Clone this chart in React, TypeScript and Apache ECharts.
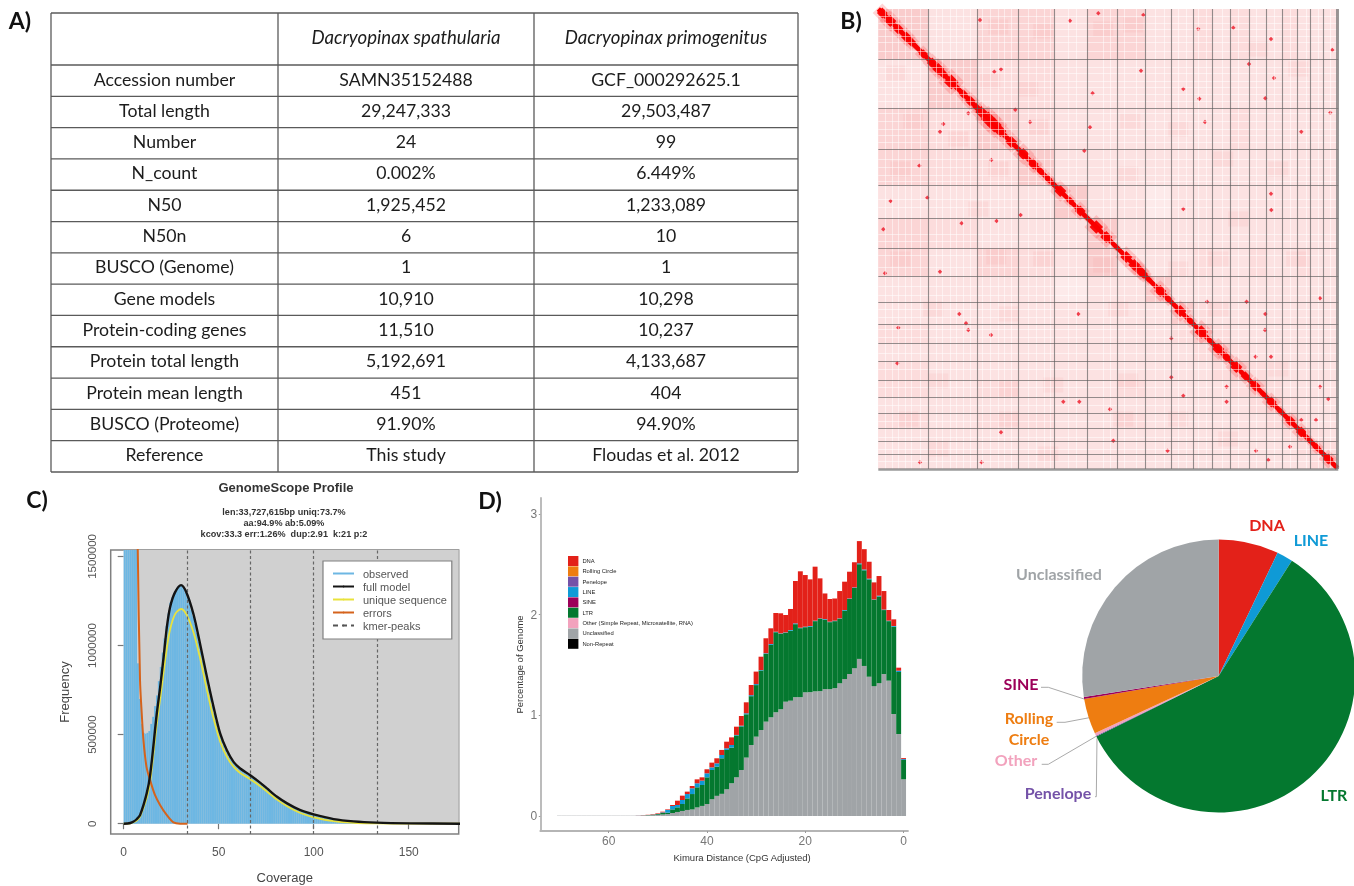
import React, { useEffect, useRef } from "react";
import * as echarts from "echarts";

// ---------- Panel A ----------
const rowLabels = ["Accession number","Total length","Number","N_count","N50","N50n","BUSCO (Genome)","Gene models","Protein-coding genes","Protein total length","Protein mean length","BUSCO (Proteome)","Reference"];
const spathularia = ["SAMN35152488","29,247,333","24","0.002%","1,925,452","6","1","10,910","11,510","5,192,691","451","91.90%","This study"];
const primogenitus = ["GCF_000292625.1","29,503,487","99","6.449%","1,233,089","10","1","10,298","10,237","4,133,687","404","94.90%","Floudas et al. 2012"];
const speciesHeaders = ["Dacryopinax spathularia","Dacryopinax primogenitus"];

// ---------- Panel B ----------
const contigEnds = [50,99,140,176,209,239,267,293,315,334,352,371,388,404,419,432,445,459];
const contigTints = [
"413313311212112111","142211111111111111","324211111112111111","322411111111111111","111141101111111111","321114111111111111",
"313214111211211211","111101141111111111","111111114211111111","211111112421111111","111111111242111111","211111111124211111",
"212111211112421111","111111111111242111","212211211111124211","111111111111112421","111111111111111242","111111111111111124"];
const paleStripes = [7,14,20,27,33,42,58,64,72,78,85,92,104,112,120,126,133,150,158,166,172,190,198,225,232,246,258,277,286,300,308,320,328,344,360,378,396,412,428,440,452];
const diagonalEnds = [0,459];
const diagBlobs = [[4,8],[12,9],[20,8],[28,8],[33,7],[37,4],[45,7],[54,8],[60,9],[65,7],[73,11],[78,5],[85,7],[92,8],[98,6],[103,9],[110,11],[116,11],[122,9],[127,4],[133,9],[139,4],[145,9],[155,8],[162,6],[170,6],[175,5],[182,9],[192,6],[202,8],[209,4],[218,10],[228,9],[238,4],[248,9],[256,9],[262,8],[265,7],[270,5],[282,9],[290,6],[302,9],[312,6],[323,10],[332,5],[340,9],[348,7],[358,9],[367,7],[377,8],[385,5],[393,8],[402,5],[412,8],[423,8],[431,5],[438,6],[450,8],[458,3]];
const hicSpots = [[101.7,11],[191.7,11.7],[220,4.3],[265,6],[320,20],[355,18.7],[392.7,30],[454,41],[116,62.7],[122.7,60.3],[262.7,61.7],[395.7,69],[214.3,84.3],[305,80],[321,89.7],[387,89.3],[370.7,55],[137,100.7],[151.7,113],[211.7,118.3],[326.7,113],[423,122.7],[452,103.7],[206,141.7],[392.7,184.7],[393,201],[305,200],[61.7,122.7],[65,115],[113,151],[90,104.3],[41,156.7],[12.3,192],[49,188.7],[5,220.3],[83.3,214.3],[118.3,212],[142.3,206],[61.7,262.7],[6.7,264.3],[20,318.7],[90,321],[112.7,326],[19,354.3],[122.7,423.3],[41.7,453.3],[103.3,453.3],[78.3,461],[200,305],[87.7,314.3],[81,305],[201,392.7],[185,392.7],[231.7,400.3],[293,329.3],[293,368.3],[328.7,292.7],[368.3,292.7],[387,305],[386.7,321],[377.3,347.7],[392.7,347.7],[348.3,377.7],[305,386.7],[348.3,392.7],[441.7,377.7],[450,390],[441.7,289.3],[411.7,437.7],[377.7,441.7],[390,451],[437.7,411],[423,411],[235,431.7],[289.3,441.7]];
const faintBlotches = [[120,18],[165,22],[225,20],[255,16],[18,64],[112,72],[150,80],[35,112],[80,130],[160,118],[252,112],[22,160],[120,160],[250,165],[100,200],[22,250],[118,248],[165,250],[225,256],[55,300],[130,305],[240,300],[300,120],[300,260],[340,250],[380,40],[420,60],[345,150],[400,160],[360,210],[418,250],[340,300],[60,372],[130,380],[175,376],[250,372],[30,410],[130,410],[245,410],[300,410],[400,360],[350,430],[60,440],[170,445]];

// ---------- Panel C ----------
const observedThousands = [4000,4000,4000,4000,4000,4000,4000,900,700,560,510,505,510,520,560,600,660,720,800,880,960,1040,1110,1180,1240,1270,1295,1315,1330,1337,1335,1322,1298,1270,1240,1200,1165,1120,1070,1020,970,915,865,815,765,715,665,620,575,535,500,470,440,415,395,375,360,345,332,320,312,303,295,288,281,274,267,259,250,241,232,227,218,208,200,190,182,173,164,155,148,141,134,127,120,114,108,102,96,90,85,80,76,71,67,63,60,57,54,51,48,45,42,39,37,35,33,31,29,27,25,24,22,21,20,18,17,16,15,14,13,12,11,10,10,9,9,8,8,7,7,6,6,6,5,5,5,4,4,4,4,3,3,3,3,3,2,2,2,2,2,2,2,2,2,2,2,2,1,1,1,1,1,1,1,1,1,1,1,1,1,1,1,1];
const fullCov = [0,2,3.5,5,6.8,8.6,12.1,14,17.4,19.2,21,22.7,24.4,27,30.2,33,36.7,40.2,43.8,47.3,50.8,54.3,57.8,61.3,66.6,71.9,75.4,80.7,86,93,100,110.5,121,133,151,177];
const fullModel = [0,1000,4000,11000,25000,48000,170000,280000,617000,767000,935000,1102000,1215000,1298000,1339000,1298000,1177000,1009000,823000,655000,505000,412000,347000,310000,272000,229000,198000,151000,114000,76000,52000,26000,13000,6000,2000,0];
const uniqueModel = [0,500,2000,8000,18000,40000,145000,240000,560000,700000,850000,985000,1090000,1175000,1205000,1175000,1075000,930000,750000,590000,460000,375000,320000,285000,250000,210000,180000,135000,98000,60000,36000,14000,5000,2000,0,0];
const errorCov = [6.9,7.4,8.6,9.5,10.4,12,13.9,16.5,19.2,22.7,26.2,29.7,33.6];
const errorModel = [2200000,1536000,804000,617000,468000,319000,244000,160000,104000,48000,7000,0,0];
const kmerPeaks = [33.3,66.6,99.9,133.2];
const coverageTicks = [0,50,100,150];
const frequencyTicks = [0,500000,1000000,1500000];

// ---------- Panel D (index = Kimura distance 0,1,2...; tops of the stack as read) ----------
const unclassifiedTop = [.364,.814,1.013,1.344,1.41,1.32,1.29,1.383,1.49,1.56,1.467,1.41,1.36,1.318,1.27,1.26,1.26,1.24,1.238,1.23,1.228,1.18,1.18,1.145,1.135,1.06,1.03,.98,.937,.854,.788,.705,.58,.457,.384,.325,.265,.22,.2,.166,.119,.1,.085,.065,.06,.05,.04,.03,.02,.015,.01,.008,.005,.004,.003,.003,.003,.003,.003,.003,.003,.003,.003,.003,.003,.003,.003,.003,.003,.003,.003];
const ltrTop = [.556,1.43,1.88,1.935,2.045,2.18,2.145,2.35,2.44,2.5,2.265,2.155,2.04,1.96,1.935,1.925,1.95,1.96,1.935,1.88,1.875,1.865,1.905,1.84,1.82,1.81,1.825,1.7,1.61,1.445,1.3,1.19,1.01,.89,.8,.68,.656,.573,.49,.457,.384,.308,.285,.218,.175,.119,.086,.066,.033,.03,.018,.012,.008,.005,.003,.003];
const lineTop = [.565,1.443,1.887,1.94,2.05,2.188,2.15,2.357,2.448,2.509,2.27,2.16,2.046,1.963,1.94,1.93,1.956,1.963,1.94,1.887,1.88,1.87,1.913,1.847,1.824,1.814,1.83,1.708,1.616,1.45,1.31,1.2,1.02,.897,.805,.705,.672,.606,.523,.483,.424,.351,.325,.275,.218,.159,.109,.099,.06,.036,.02,.014,.009,.006,.004,.003];
const dnaTop = [.575,1.473,1.953,2.046,2.234,2.383,2.32,2.525,2.65,2.73,2.52,2.426,2.327,2.234,2.16,2.155,2.21,2.36,2.476,2.35,2.393,2.43,2.334,2.056,1.996,2.013,2.016,1.864,1.765,1.582,1.434,1.301,1.129,.993,.887,.781,.738,.656,.573,.53,.464,.384,.364,.298,.242,.202,.152,.109,.066,.043,.026,.018,.012,.008,.005,.003];
const kimuraTicks = [0,20,40,60];
const genomeTicks = [0,1,2,3];

// ---------- Pie ----------
const pieNames = ["DNA","LINE","LTR","Penelope","Other","Rolling Circle","SINE","Unclassified"];
const pieShares = [7.1,1.9,58.7,0.1,0.3,4.2,0.25,27.45];
const pieColors: Record<string,string> = {DNA:"#e32119",LINE:"#0f9ad6",LTR:"#04782f",Penelope:"#7452a8",Other:"#f2a2bd","Rolling Circle":"#ee7d11",SINE:"#9c0059",Unclassified:"#a0a4a7"};

const labelFont = "Lato, 'Open Sans', sans-serif";
const rFont = "'Liberation Sans', Arial, sans-serif";

function tableGraphics() {
  const els: any[] = [];
  const colX = [51, 278, 534, 798];
  const rowY = [13, 65];
  for (let i = 1; i <= rowLabels.length; i++) rowY.push(65 + (i * 407) / rowLabels.length);
  const lineStyle = { stroke: "#5a5a5a", lineWidth: 1.3 };
  rowY.forEach((y) => els.push({ type: "line", shape: { x1: colX[0], y1: y, x2: colX[3], y2: y }, style: lineStyle }));
  colX.forEach((x) => els.push({ type: "line", shape: { x1: x, y1: 13, x2: x, y2: rowY[rowY.length - 1] }, style: lineStyle }));
  const txt = (t: string, x: number, y: number, font: string, fill = "#1c1c1c") =>
    els.push({ type: "text", x, y, style: { text: t, fill, font, align: "center", verticalAlign: "middle" } });
  const cellFont = `400 17.7px ${labelFont}`;
  speciesHeaders.forEach((h, i) => txt(h, (colX[i + 1] + colX[i + 2]) / 2, 37, `italic 400 18.6px ${labelFont}`));
  rowLabels.forEach((t, i) => {
    const y = (rowY[i + 1] + rowY[i + 2]) / 2 - 1.6;
    txt(t, (colX[0] + colX[1]) / 2, y, cellFont);
    txt(spathularia[i], (colX[1] + colX[2]) / 2, y, cellFont);
    txt(primogenitus[i], (colX[2] + colX[3]) / 2, y, cellFont);
  });
  const panel = `700 23px ${labelFont}`;
  txt("A)", 20, 20, panel, "#111");
  txt("B)", 851, 20, panel, "#111");
  txt("C)", 37, 499, panel, "#111");
  txt("D)", 490, 500, panel, "#111");
  return els;
}

function buildOption(): any {
  const axisPlain = { splitLine: { show: false }, axisLine: { show: false } };
  const tierRows = (top: number[], below: number[] | null) =>
    top.map((v, i) => [i, below ? (below[i] ?? 0) : 0, v]);
  const empty: any[] = [];
  const contigTintsColors = ["#fdeaea", "#fce2e2", "#fcdcdc", "#fbd5d5", "#f9cccc"];
  const heatCells: number[][] = [];
  contigTints.forEach((row, j) => row.split("").forEach((c, i) => heatCells.push([i, j, +c])));

  const tier = (name: string, color: string, data: any[]) => ({
    type: "custom", name, xAxisIndex: 1, yAxisIndex: 1, silent: true, data, itemStyle: { color },
    encode: { x: 0, y: [1, 2] },
    renderItem: (_p: any, api: any) => {
      const v = api.value(0);
      const a = api.coord([v + 0.5, api.value(2)]);
      const b = api.coord([v - 0.5, api.value(1)]);
      return {
        type: "rect",
        shape: { x: Math.min(a[0], b[0]), y: a[1], width: Math.abs(b[0] - a[0]), height: b[1] - a[1] },
        style: { fill: color },
      };
    },
  });

  const pieLayout: Record<string, any> = {
    DNA: { x: 1267, y: 524 }, LINE: { x: 1311, y: 539 }, LTR: { x: 1334, y: 794 }, Unclassified: { x: 1059, y: 573 },
    SINE: { x: 1021, y: 683 }, "Rolling Circle": { x: 1029, y: 728 }, Other: { x: 1016, y: 759 }, Penelope: { x: 1058, y: 792 },
  };
  const pieLeaders: Record<string, number[][]> = {
    SINE: [[1041, 687.3], [1048.3, 687.3], [1085, 699.3]],
    "Rolling Circle": [[1056.7, 722.3], [1065, 722.3], [1089.3, 717.7]],
    Other: [[1041.7, 764.3], [1048.3, 764.3], [1096.7, 736]],
    Penelope: [[1095, 796.7], [1096.3, 796.7], [1097, 738.3]],
  };
  const subStyle = { fontFamily: rFont, fontSize: 9.1, fontWeight: "bold", color: "#333" };

  return {
    animation: false,
    backgroundColor: "#ffffff",
    title: [
      { text: "GenomeScope Profile", left: 281, top: 476, textAlign: "center", textStyle: { fontFamily: rFont, fontSize: 13, fontWeight: "bold", color: "#333" } },
      { text: "len:33,727,615bp uniq:73.7%", left: 279, top: 502, textAlign: "center", textStyle: subStyle },
      { text: "aa:94.9% ab:5.09%", left: 279, top: 513, textAlign: "center", textStyle: subStyle },
      { text: "kcov:33.3 err:1.26%  dup:2.91  k:21 p:2", left: 279, top: 524, textAlign: "center", textStyle: subStyle },
    ],
    legend: [
      {
        left: 323, top: 561, z: 10, orient: "vertical", selectedMode: false, backgroundColor: "#fff", borderColor: "#808080", borderWidth: 1.2,
        padding: [6, 5, 7, 9], itemWidth: 21, itemHeight: 2, itemGap: 0,
        textStyle: { fontFamily: rFont, fontSize: 11, color: "#555", lineHeight: 13, padding: [0, 0, 0, 4] },
        data: [{ name: "observed", icon: "rect" }, { name: "full model" }, { name: "unique sequence" }, { name: "errors" }, { name: "kmer-peaks" }],
      },
      {
        left: 568, top: 556, orient: "vertical", selectedMode: false, padding: 0, itemWidth: 10.4, itemHeight: 10, itemGap: 0.35, icon: "rect",
        textStyle: { fontFamily: rFont, fontSize: 5.8, color: "#222", padding: [0, 0, 0, -1] },
        data: ["DNA", "Rolling Circle", "Penelope", "LINE", "SINE", "LTR", "Other (Simple Repeat, Microsatellite, RNA)", "Unclassified", "Non-Repeat"],
      },
    ],
    grid: [
      { left: 110.7, top: 550, width: 348, height: 284, show: true, backgroundColor: "#fff", borderColor: "#808080", borderWidth: 1.5 },
      { left: 540.3, top: 498, width: 367.7, height: 333, show: false },
      { left: 878.3, top: 9, width: 460, height: 460, show: true, backgroundColor: "#fce0e0", borderWidth: 0 },
    ],
    xAxis: [
      {
        type: "value", gridIndex: 0, min: -6.84, max: 176.3, name: "Coverage", nameLocation: "middle", nameGap: 37,
        nameTextStyle: { fontFamily: rFont, fontSize: 13, color: "#444" }, ...axisPlain,
        axisTick: { show: true, length: 5.5, customValues: coverageTicks, lineStyle: { color: "#777", width: 1.2 } },
        axisLabel: { customValues: coverageTicks, margin: 12, fontFamily: rFont, fontSize: 12, color: "#555" },
      },
      {
        type: "value", gridIndex: 1, inverse: true, min: -0.9, max: 73.9, name: "Kimura Distance (CpG Adjusted)", nameLocation: "middle", nameGap: 21,
        nameTextStyle: { fontFamily: rFont, fontSize: 9.5, color: "#333", padding: [0, 0, 0, 36] }, splitLine: { show: false },
        axisLine: { show: true, onZero: false, lineStyle: { color: "#b5b5b5", width: 1.8 } },
        axisTick: { show: true, length: 2, customValues: kimuraTicks, lineStyle: { color: "#999" } },
        axisLabel: { customValues: kimuraTicks, margin: 4, fontFamily: rFont, fontSize: 12, color: "#777" },
      },
      { type: "value", gridIndex: 2, min: 0, max: 460, show: false },
    ],
    yAxis: [
      {
        type: "value", gridIndex: 0, min: -57800, max: 1536000, name: "Frequency", nameLocation: "middle", nameGap: 40, nameRotate: 90,
        nameTextStyle: { fontFamily: rFont, fontSize: 13, color: "#444" }, ...axisPlain,
        axisTick: { show: true, length: 6, customValues: frequencyTicks, lineStyle: { color: "#777", width: 1.2 } },
        axisLabel: { customValues: frequencyTicks, margin: 13, rotate: 90, formatter: (v: number) => String(v), fontFamily: rFont, fontSize: 11.5, color: "#555" },
      },
      {
        type: "value", gridIndex: 1, min: -0.149, max: 3.158, name: "Percentage of Genome", nameLocation: "middle", nameGap: 15.5, nameRotate: 90,
        nameTextStyle: { fontFamily: rFont, fontSize: 9.5, color: "#333" }, splitLine: { show: false },
        axisLine: { show: true, onZero: false, lineStyle: { color: "#b5b5b5", width: 1.8 } },
        axisTick: { show: true, length: 1.5, customValues: genomeTicks, lineStyle: { color: "#999" } },
        axisLabel: { customValues: genomeTicks, margin: 3, fontFamily: rFont, fontSize: 12, color: "#777" },
      },
      { type: "value", gridIndex: 2, min: 0, max: 460, inverse: true, show: false },
    ],
    graphic: { elements: tableGraphics() },
    series: [
      // Panel C
      {
        type: "line", name: "background", xAxisIndex: 0, yAxisIndex: 0, data: empty, z: 0, silent: true,
        markArea: { silent: true, itemStyle: { color: "#d0d0d0" }, data: [[{ xAxis: 0, yAxis: 0 }, { xAxis: 176.3, yAxis: 1536000 }]] },
      },
      {
        type: "bar", name: "observed", xAxisIndex: 0, yAxisIndex: 0, barWidth: 1.95, z: 2,
        data: observedThousands.map((v, i) => [i + 0.5, v * 1000]), itemStyle: { color: "#6db7e3" },
      },
      { type: "line", name: "full model", xAxisIndex: 0, yAxisIndex: 0, symbol: "none", smooth: 0.3, z: 5, data: fullCov.map((c, i) => [c, fullModel[i]]), lineStyle: { color: "#141414", width: 2.4 }, itemStyle: { color: "#141414" } },
      { type: "line", name: "unique sequence", xAxisIndex: 0, yAxisIndex: 0, symbol: "none", smooth: 0.3, z: 4, data: fullCov.map((c, i) => [c, uniqueModel[i]]), lineStyle: { color: "#e9e23c", width: 1.8 }, itemStyle: { color: "#e9e23c" } },
      { type: "line", name: "errors", xAxisIndex: 0, yAxisIndex: 0, symbol: "none", smooth: 0.3, z: 4, data: errorCov.map((c, i) => [c, errorModel[i]]), lineStyle: { color: "#d5631c", width: 2 }, itemStyle: { color: "#d5631c" } },
      {
        type: "line", name: "kmer-peaks", xAxisIndex: 0, yAxisIndex: 0, data: empty, z: 3, symbol: "none", lineStyle: { color: "#555", width: 1.4, type: [5, 4] }, itemStyle: { color: "#555" },
        markLine: { silent: true, symbol: "none", label: { show: false }, lineStyle: { color: "#666", width: 1.2, type: [3, 2.5] }, data: kmerPeaks.map((x) => ({ xAxis: x })) },
      },
      // Panel D: each tier spans the top of the one below to its own top
      tier("Unclassified", "#a0a4a7", tierRows(unclassifiedTop, null)),
      tier("LTR", "#04782f", tierRows(ltrTop, unclassifiedTop)),
      tier("LINE", "#0f9ad6", tierRows(lineTop, ltrTop)),
      tier("DNA", "#e32119", tierRows(dnaTop, lineTop)),
      tier("Rolling Circle", "#ee7d11", empty),
      tier("Penelope", "#7452a8", empty),
      tier("SINE", "#9c0059", empty),
      tier("Other (Simple Repeat, Microsatellite, RNA)", "#f2a2bd", empty),
      tier("Non-Repeat", "#000000", empty),
      // Panel B
      {
        type: "custom", name: "contig tint", xAxisIndex: 2, yAxisIndex: 2, silent: true, z: 1, data: heatCells,
        renderItem: (_p: any, api: any) => {
          const i = api.value(0), j = api.value(1), l = api.value(2);
          const a = api.coord([i ? contigEnds[i - 1] : 0, j ? contigEnds[j - 1] : 0]);
          const b = api.coord([contigEnds[i], contigEnds[j]]);
          return { type: "rect", shape: { x: a[0], y: a[1], width: b[0] - a[0], height: b[1] - a[1] }, style: { fill: contigTintsColors[l] } };
        },
      },
      { type: "scatter", name: "faint", xAxisIndex: 2, yAxisIndex: 2, silent: true, z: 2, symbol: "rect", data: faintBlotches, symbolSize: [20, 15], itemStyle: { color: "#f58c8c", opacity: 0.1 } },
      {
        type: "line", name: "pale", xAxisIndex: 2, yAxisIndex: 2, data: empty, z: 2, silent: true,
        markLine: { silent: true, symbol: "none", label: { show: false }, lineStyle: { color: "rgba(255,255,255,0.5)", width: 1, type: "solid" }, data: paleStripes.flatMap((p) => [{ xAxis: p }, { yAxis: p }]) },
      },
      { type: "scatter", name: "halo", xAxisIndex: 2, yAxisIndex: 2, silent: true, z: 3, symbol: "diamond", data: diagBlobs.map((b) => [b[0], b[0], b[1]]), symbolSize: (v: number[]) => v[2] * 2.4, itemStyle: { color: "#ff4040", opacity: 0.22 } },
      { type: "line", name: "diagonal", xAxisIndex: 2, yAxisIndex: 2, silent: true, z: 4, symbol: "none", data: diagonalEnds.map((d) => [d, d]), lineStyle: { color: "#f80000", width: 4.6 } },
      { type: "scatter", name: "domains", xAxisIndex: 2, yAxisIndex: 2, silent: true, z: 4, symbol: "diamond", data: diagBlobs.map((b) => [b[0], b[0], b[1]]), symbolSize: (v: number[]) => v[2] * 1.35, itemStyle: { color: "#fa0000", opacity: 0.95 } },
      { type: "scatter", name: "spots", xAxisIndex: 2, yAxisIndex: 2, silent: true, z: 3, symbol: "diamond", data: hicSpots, symbolSize: 4.4, itemStyle: { color: "#ee1525", opacity: 0.8 } },
      {
        type: "line", name: "contig lines", xAxisIndex: 2, yAxisIndex: 2, data: empty, z: 5, silent: true,
        markLine: { silent: true, symbol: "none", label: { show: false }, lineStyle: { color: "rgba(90,90,90,0.65)", width: 1.1, type: "solid" }, data: contigEnds.slice(0, -1).flatMap((p) => [{ xAxis: p }, { yAxis: p }]).concat([{ xAxis: 459, lineStyle: { width: 3, color: "rgba(120,120,120,0.75)" } } as any, { yAxis: 459.8, lineStyle: { width: 2.5, color: "rgba(120,120,120,0.75)" } } as any]) },
      },
      // Pie
      {
        type: "pie", name: "Repeat composition", center: [1218.7, 676], radius: 136.5, startAngle: 90, clockwise: true, avoidLabelOverlap: false, silent: true,
        data: pieNames.map((name, i) => ({ name, value: pieShares[i], itemStyle: { color: pieColors[name] }, label: { color: pieColors[name] } })),
        label: {
          show: true, fontFamily: labelFont, fontWeight: 700, fontSize: 16, lineHeight: 21,
          formatter: (p: any) => (p.name === "Rolling Circle" ? "Rolling\nCircle" : p.name),
        },
        labelLine: { show: true, lineStyle: { color: "#aaaaaa", width: 1 } },
        labelLayout: (p: any) => {
          const key = p.text === "Rolling\nCircle" ? "Rolling Circle" : p.text;
          const pos = pieLayout[key];
          const out: any = { x: pos.x, y: pos.y, align: "center", verticalAlign: "middle", hideOverlap: false };
          out.labelLinePoints = pieLeaders[key] || [[0, -50], [0, -50], [0, -50]];
          return out;
        },
      },
    ],
  };
}

export default function App() {
  const ref = useRef<HTMLDivElement>(null);
  useEffect(() => {
    if (!ref.current) return;
    const chart = echarts.init(ref.current, undefined, { renderer: "svg" });
    chart.setOption(buildOption());
    return () => chart.dispose();
  }, []);
  return <div ref={ref} style={{ position: "absolute", left: 0, top: 0, width: 1354, height: 886, filter: "blur(0.5px)" }} />;
}
